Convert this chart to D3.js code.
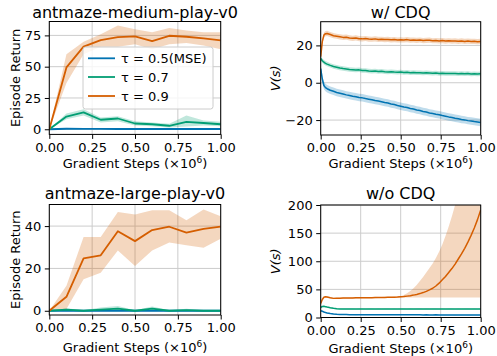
<!DOCTYPE html>
<html>
<head>
<meta charset="utf-8">
<script src="https://cdn.jsdelivr.net/npm/d3@7"></script>
<style>
  body { margin: 0; background: #fff; }
  svg { display: block; }
  text { font-family: "DejaVu Sans", sans-serif; fill: #000; }
</style>
</head>
<body>
<svg id="chart" width="497" height="356"></svg>
<script>
// legend / colours
const seriesNames = ['\u03c4 = 0.5(MSE)', '\u03c4 = 0.7', '\u03c4 = 0.9'];
const colors = ['#0173b2', '#029e73', '#d55e00'];
const xTicks = [0, 0.25, 0.5, 0.75, 1.0];

// evaluation returns (x in 1e6 steps)
const evalSteps = [0, 0.1, 0.2, 0.3, 0.4, 0.5, 0.6, 0.7, 0.8, 0.9, 1.0];

const medMse   = [0, 0.4, 0.3, 0.3, 0.2, 0.2, 0.2, 0.2, 0.2, 0.2, 0.2];
const medMseLo = [0, 0.0, 0.0, 0.0, 0.0, 0.0, 0.0, 0.0, 0.0, 0.0, 0.0];
const medMseHi = [0, 0.8, 0.7, 0.6, 0.5, 0.5, 0.5, 0.5, 0.5, 0.5, 0.5];
const med07    = [0, 10.2, 13.5, 7.6, 8.6, 4.6, 4.0, 2.8, 5.9, 5.0, 4.0];
const med07Lo  = [0, 8.0, 11.0, 5.5, 6.5, 3.0, 2.5, 1.5, 2.2, 3.0, 2.5];
const med07Hi  = [0, 12.5, 16.0, 9.5, 10.5, 6.5, 5.5, 4.5, 11.0, 7.0, 6.0];
const med09    = [0, 49.4, 66.0, 71.2, 73.6, 74.2, 70.4, 74.7, 73.9, 72.6, 71.0];
const med09Lo  = [0, 37.0, 60.0, 66.0, 66.0, 68.0, 64.0, 68.0, 69.0, 67.0, 64.0];
const med09Hi  = [0, 60.0, 70.0, 76.0, 83.0, 80.0, 77.5, 81.0, 79.0, 77.5, 77.5];

const largeMse   = [0, 0, 0, 0, 0, 0, 0, 0, 0, 0, 0];
const largeMseLo = [0, -0.2, -0.2, -0.2, -0.2, -0.2, -0.2, -0.2, -0.2, -0.2, -0.2];
const largeMseHi = [0, 0.3, 0.3, 0.3, 0.3, 0.3, 0.3, 0.3, 0.3, 0.3, 0.3];
const large07    = [0, 0.5, 0, 0.5, 1.0, 0, 1.0, 0, 0.3, 0, 0];
const large07Lo  = [0, 0, 0, 0, 0, 0, 0, 0, 0, 0, 0];
const large07Hi  = [0, 1.2, 0.3, 1.5, 2.3, 0.3, 2.0, 0.3, 0.9, 0.3, 0.3];
const large09    = [0, 6.6, 24.8, 26.2, 37.6, 32.9, 38.1, 39.7, 36.9, 38.7, 39.7];
const large09Lo  = [0, 0.8, 14.9, 18.0, 28.5, 21.2, 28.5, 32.2, 30.9, 29.8, 34.0];
const large09Hi  = [0, 11.8, 34.8, 34.8, 46.6, 45.5, 47.5, 47.5, 42.8, 47.8, 44.7];

// value estimates V(s) during training
const trainSteps = [0, 0.01, 0.02, 0.03, 0.04, 0.06, 0.08, 0.10, 0.12, 0.14, 0.16, 0.18, 0.20,
  0.22, 0.24, 0.26, 0.28, 0.30, 0.32, 0.34, 0.36, 0.38, 0.40, 0.42, 0.44, 0.46, 0.48, 0.50,
  0.52, 0.54, 0.56, 0.58, 0.60, 0.62, 0.64, 0.66, 0.68, 0.70, 0.72, 0.74, 0.76, 0.78, 0.80,
  0.82, 0.84, 0.86, 0.88, 0.90, 0.92, 0.94, 0.96, 0.98, 1.00];

const cdqMse = [7.5, 2.0, -1.5, -2.6, -3.2, -4.0, -4.6, -5.2, -5.6, -6.0, -6.5, -6.8, -7.2,
  -7.5, -7.9, -8.1, -8.5, -8.8, -9.1, -9.5, -9.8, -10.2, -10.6, -10.9, -11.4, -11.7, -12.2, -12.6,
  -13.0, -13.3, -13.8, -14.1, -14.6, -14.9, -15.4, -15.7, -16.2, -16.5, -16.9, -17.2, -17.6, -17.9, -18.3,
  -18.6, -19.0, -19.3, -19.7, -19.9, -20.3, -20.5, -20.8, -21.0, -21.3];
const cdq07 = [13.0, 11.8, 11.0, 10.4, 10.0, 9.3, 8.7, 8.3, 7.9, 7.6, 7.4, 7.1, 7.0,
  6.8, 6.9, 6.5, 6.6, 6.3, 6.2, 6.3, 6.0, 6.1, 5.9, 5.8, 5.9, 5.7, 5.6, 5.7,
  5.5, 5.6, 5.4, 5.5, 5.3, 5.4, 5.2, 5.3, 5.2, 5.1, 5.2, 5.0, 5.1, 4.9, 5.0,
  4.9, 5.0, 4.8, 4.9, 4.8, 4.9, 4.7, 4.8, 4.7, 4.8];
const cdq09 = [14.0, 22.0, 25.5, 26.3, 26.4, 25.8, 25.2, 24.9, 24.6, 24.3, 24.4, 24.0, 23.8,
  24.0, 23.6, 23.5, 23.7, 23.4, 23.3, 23.5, 23.2, 23.3, 23.1, 23.2, 23.0, 23.1, 22.9, 23.0,
  22.9, 23.1, 22.8, 22.9, 22.7, 22.9, 22.6, 22.7, 22.8, 22.5, 22.6, 22.4, 22.6, 22.3, 22.5,
  22.3, 22.4, 22.2, 22.4, 22.1, 22.3, 22.1, 22.2, 22.0, 22.1];
const cdqSpread = [2.0, 1.2, 1.4];

const noCdqMse = [12.0, 11.0, 9.8, 8.8, 8.0, 7.0, 6.3, 5.8, 5.5, 5.3, 5.2, 5.1, 5.1,
  5.0, 5.1, 5.0, 5.0, 4.9, 5.0, 4.9, 4.9, 4.9, 4.8, 4.9, 4.8, 4.8, 4.8, 4.8,
  4.7, 4.8, 4.7, 4.7, 4.7, 4.7, 4.6, 4.7, 4.6, 4.6, 4.7, 4.6, 4.6, 4.6, 4.6,
  4.6, 4.5, 4.6, 4.5, 4.6, 4.5, 4.5, 4.6, 4.5, 4.5];
const noCdq07 = [18.0, 19.5, 19.8, 19.3, 18.5, 17.3, 16.3, 15.6, 15.3, 15.1, 15.0, 15.1, 15.0,
  14.9, 15.0, 15.0, 14.9, 15.0, 15.0, 14.9, 15.0, 14.9, 15.0, 15.0, 14.9, 15.0, 14.9, 15.0,
  15.0, 14.9, 15.0, 14.9, 15.0, 15.0, 14.9, 15.0, 14.9, 15.0, 15.0, 14.9, 15.0, 14.9, 15.0,
  15.0, 14.9, 15.0, 14.9, 15.0, 15.0, 14.9, 15.0, 14.9, 15.0];
const noCdq09 = [25.0, 32.0, 36.0, 37.0, 36.5, 35.0, 34.0, 34.2, 34.3, 34.5, 34.6, 34.7, 34.8,
  34.9, 35.0, 35.1, 35.2, 35.3, 35.3, 35.4, 35.5, 35.6, 35.7, 35.8, 36.0, 36.2, 36.4, 36.8,
  37.3, 38.0, 38.8, 39.8, 41.0, 42.5, 44.3, 46.5, 49.0, 52.0, 56.0, 61.0, 67.0, 73.0, 80.0,
  87.0, 95.0, 104, 113, 123, 134, 146, 159, 174, 191];
const noCdq09Lo = [24.0, 31.0, 35.0, 36.0, 35.5, 34.0, 33.0, 33.2, 33.3, 33.5, 33.6, 33.7, 33.8,
  33.9, 34.0, 34.1, 34.2, 34.3, 34.3, 34.4, 34.5, 34.6, 34.7, 34.8, 35.0, 35.2, 35.3, 35.5,
  35.5, 35.5, 35.5, 35.5, 35.5, 35.5, 35.5, 35.5, 35.5, 35.5, 35.5, 35.5, 35.5, 35.5, 35.5,
  35.5, 35.5, 35.5, 35.5, 35.5, 35.5, 35.5, 35.5, 35.5, 35.5];
const noCdq09Hi = [26.0, 33.0, 37.0, 38.0, 37.5, 36.0, 35.0, 35.2, 35.3, 35.5, 35.6, 35.7, 35.8,
  35.9, 36.0, 36.1, 36.2, 36.3, 36.3, 36.4, 36.5, 36.6, 36.7, 36.8, 37.0, 37.3, 37.6, 38.0,
  40.0, 43.0, 47.0, 52.0, 58.0, 65.0, 72.0, 80.0, 88.0, 96.0, 106, 117, 130, 145, 162,
  180, 200, 225, 250, 280, 310, 340, 370, 400, 430];
const noCdqSpread = [0.8, 0.8];

const withSpread = (ys, s) => ({ y: ys, lo: ys.map(v => v - s), hi: ys.map(v => v + s) });

const panels = [
  { title: 'antmaze-medium-play-v0', ylabel: 'Episode Return', xs: evalSteps,
    box: { l: 49.3, r: 220.7, t: 21.5, b: 134.4 }, ydom: [-4.1, 86.1], yticks: [0, 25, 50, 75],
    series: [{ y: medMse, lo: medMseLo, hi: medMseHi }, { y: med07, lo: med07Lo, hi: med07Hi },
             { y: med09, lo: med09Lo, hi: med09Hi }],
    titleY: 17.5, xlabY: 168, ylabX: 19.5, legend: true, lw: 1.8 },
  { title: 'w/ CDQ', ylabel: 'V(s)', italic: true, xs: trainSteps,
    box: { l: 320.7, r: 480.7, t: 21.7, b: 135 }, ydom: [-28, 32.7], yticks: [-20, 0, 20],
    series: [withSpread(cdqMse, cdqSpread[0]), withSpread(cdq07, cdqSpread[1]), withSpread(cdq09, cdqSpread[2])],
    titleY: 17.5, xlabY: 168, ylabX: 279.5, lw: 1.5 },
  { title: 'antmaze-large-play-v0', ylabel: 'Episode Return', xs: evalSteps,
    box: { l: 49.3, r: 220.7, t: 204.5, b: 315 }, ydom: [-2, 50.2], yticks: [0, 20, 40],
    series: [{ y: largeMse, lo: largeMseLo, hi: largeMseHi }, { y: large07, lo: large07Lo, hi: large07Hi },
             { y: large09, lo: large09Lo, hi: large09Hi }],
    titleY: 198.5, xlabY: 352, ylabX: 19.5, lw: 1.8 },
  { title: 'w/o CDQ', ylabel: 'V(s)', italic: true, xs: trainSteps,
    box: { l: 320.7, r: 480.7, t: 205, b: 317.5 }, ydom: [0, 200], yticks: [0, 50, 100, 150, 200],
    series: [withSpread(noCdqMse, noCdqSpread[0]), withSpread(noCdq07, noCdqSpread[1]),
             { y: noCdq09, lo: noCdq09Lo, hi: noCdq09Hi }],
    titleY: 199, xlabY: 353, ylabX: 279.5, lw: 1.5 }
];

const svg = d3.select('#chart');
const fmtY = d => d < 0 ? '\u2212' + Math.abs(d) : String(d);

panels.forEach((p, pi) => {
  const x = d3.scaleLinear().domain([0, 1]).range([p.box.l, p.box.r]);
  const y = d3.scaleLinear().domain(p.ydom).range([p.box.b, p.box.t]);
  const g = svg.append('g');

  const clipId = 'clip' + pi;
  g.append('clipPath').attr('id', clipId).append('rect')
    .attr('x', p.box.l).attr('y', p.box.t)
    .attr('width', p.box.r - p.box.l).attr('height', p.box.b - p.box.t);

  // grid
  g.selectAll('.gx').data(xTicks).enter().append('line')
    .attr('x1', d => x(d)).attr('x2', d => x(d))
    .attr('y1', p.box.t).attr('y2', p.box.b)
    .attr('stroke', '#cccccc').attr('stroke-width', 1);
  g.selectAll('.gy').data(p.yticks).enter().append('line')
    .attr('x1', p.box.l).attr('x2', p.box.r)
    .attr('y1', d => y(d)).attr('y2', d => y(d))
    .attr('stroke', '#cccccc').attr('stroke-width', 1);

  const plot = g.append('g').attr('clip-path', `url(#${clipId})`);

  const area = d3.area().x((d, i) => x(p.xs[i]));
  const line = d3.line().x((d, i) => x(p.xs[i])).y(d => y(d));

  p.series.forEach((s, si) => {
    plot.append('path')
      .datum(s.y)
      .attr('d', area.y0((d, i) => y(s.lo[i])).y1((d, i) => y(s.hi[i])))
      .attr('fill', colors[si]).attr('fill-opacity', 0.25).attr('stroke', 'none');
  });
  p.series.forEach((s, si) => {
    plot.append('path')
      .datum(s.y)
      .attr('d', line)
      .attr('fill', 'none').attr('stroke', colors[si])
      .attr('stroke-width', p.lw).attr('stroke-linejoin', 'round');
  });

  // axes
  const xAxis = g.append('g')
    .attr('transform', `translate(0, ${p.box.b})`)
    .call(d3.axisBottom(x).tickValues(xTicks).tickFormat(d3.format('.2f')).tickSize(4.5).tickPadding(3.5));
  const yAxis = g.append('g')
    .attr('transform', `translate(${p.box.l}, 0)`)
    .call(d3.axisLeft(y).tickValues(p.yticks).tickFormat(fmtY).tickSize(4.5).tickPadding(3.5));
  [xAxis, yAxis].forEach(a => {
    a.select('.domain').remove();
    a.selectAll('line').attr('stroke', '#000').attr('stroke-width', 1);
    a.selectAll('text').attr('font-size', 13).attr('font-family', '"DejaVu Sans", sans-serif').attr('fill', '#000');
  });

  // frame
  g.append('rect')
    .attr('x', p.box.l).attr('y', p.box.t)
    .attr('width', p.box.r - p.box.l).attr('height', p.box.b - p.box.t)
    .attr('fill', 'none').attr('stroke', '#000').attr('stroke-width', 1);

  const cx = (p.box.l + p.box.r) / 2;
  g.append('text')
    .attr('x', cx).attr('y', p.titleY)
    .attr('text-anchor', 'middle').attr('font-size', 16)
    .text(p.title);

  const xl = g.append('text')
    .attr('x', cx).attr('y', p.xlabY)
    .attr('text-anchor', 'middle').attr('font-size', 13);
  xl.append('tspan').text('Gradient Steps (\u00d710');
  xl.append('tspan').attr('font-size', 9).attr('dy', -5).text('6');
  xl.append('tspan').attr('dy', 5).text(')');

  g.append('text')
    .attr('transform', `translate(${p.ylabX}, ${(p.box.t + p.box.b) / 2}) rotate(-90)`)
    .attr('text-anchor', 'middle').attr('font-size', 13)
    .attr('font-style', p.italic ? 'italic' : 'normal')
    .text(p.ylabel);

  if (p.legend) {
    const lg = g.append('g');
    lg.append('rect')
      .attr('x', 83).attr('y', 47).attr('width', 130).attr('height', 62).attr('rx', 2.5)
      .attr('fill', '#fff').attr('fill-opacity', 0.8)
      .attr('stroke', '#cccccc').attr('stroke-width', 1);
    const rowY = [58.3, 77, 96];
    seriesNames.forEach((name, i) => {
      lg.append('line')
        .attr('x1', 88).attr('x2', 115).attr('y1', rowY[i]).attr('y2', rowY[i])
        .attr('stroke', colors[i]).attr('stroke-width', 1.8);
      lg.append('text')
        .attr('x', 121).attr('y', rowY[i]).attr('dy', '0.36em')
        .attr('font-size', 13).text(name);
    });
  }
});
</script>
</body>
</html>
